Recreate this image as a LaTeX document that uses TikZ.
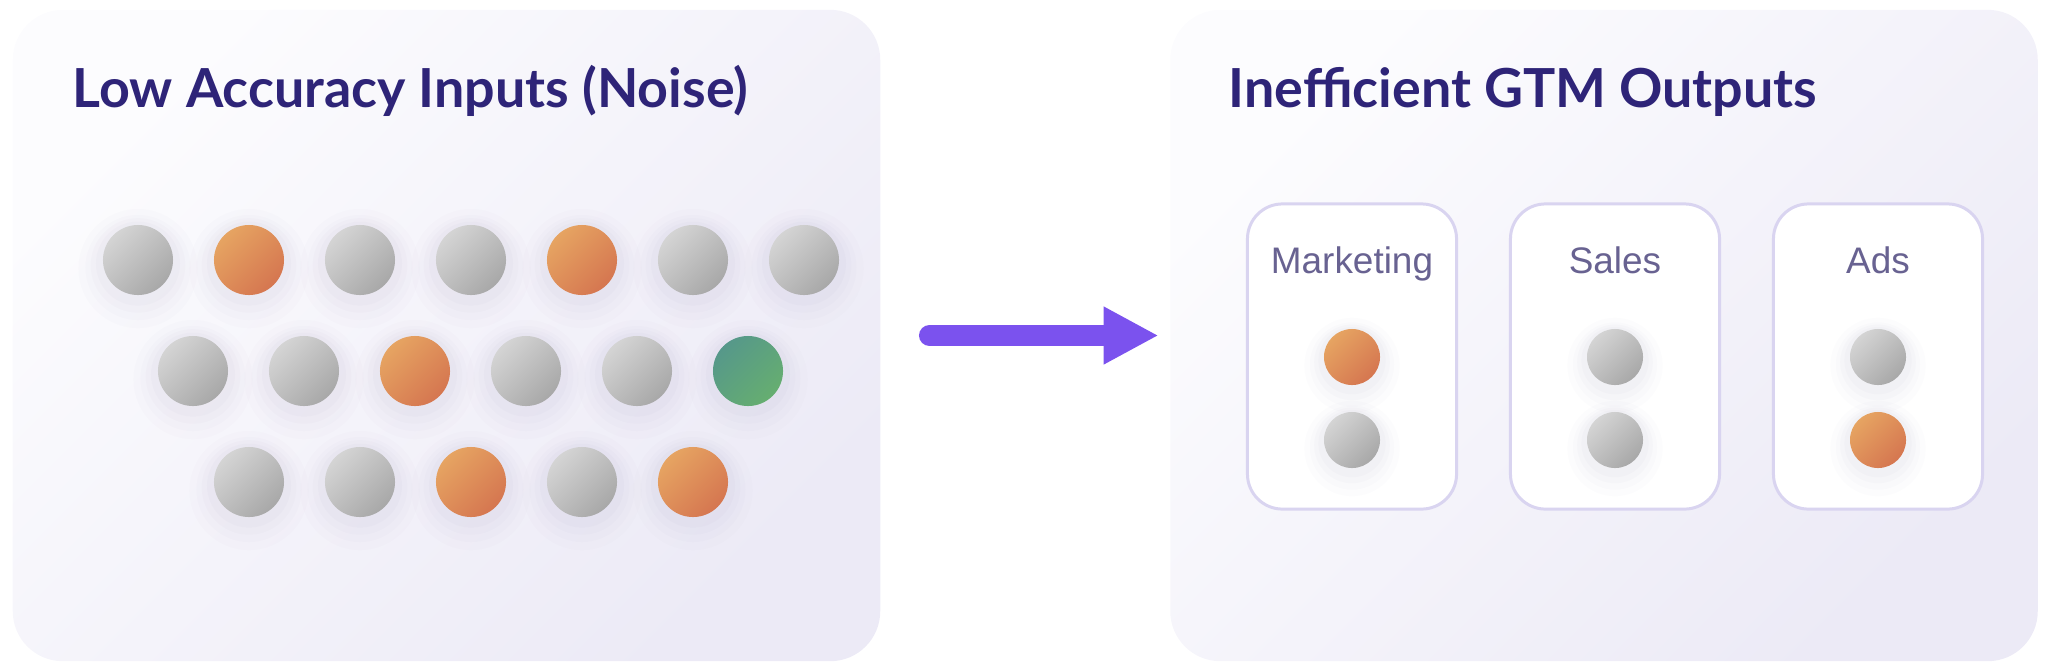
\documentclass[tikz,border=0pt]{standalone}
\usepackage{fontspec}
\usepackage{xcolor}
\usepackage{tikz}
\usetikzlibrary{arrows.meta,positioning,shadows}
\setmainfont{Liberation Sans}
\newfontfamily\headfont{Lato}

\definecolor{titleink}{RGB}{46,36,120}
\definecolor{tagink}{RGB}{104,98,145}
\definecolor{boxline}{RGB}{217,212,240}
\definecolor{flowc}{RGB}{123,82,238}
\definecolor{panelhi}{RGB}{252,252,254}
\definecolor{panello}{RGB}{236,234,246}
\definecolor{grayhi}{RGB}{212,212,212}
\definecolor{graylo}{RGB}{168,168,168}
\definecolor{orangehi}{RGB}{230,164,98}
\definecolor{orangelo}{RGB}{213,118,80}
\definecolor{greenhi}{RGB}{86,152,138}
\definecolor{greenlo}{RGB}{102,174,112}
\definecolor{shadowc}{RGB}{120,110,160}

\begin{document}
\begin{tikzpicture}[x=0.01cm, y=-0.01cm,
    panel/.style={rounded corners=0.5cm, minimum width=8.67cm, minimum height=6.51cm,
                  top color=panelhi, bottom color=panello, shading angle=45},
    channel/.style={fill=white, draw=boxline, line width=0.85pt, rounded corners=0.35cm,
                    minimum width=2.09cm, minimum height=3.05cm},
    heading/.style={anchor=base west, inner sep=0pt, text=titleink,
                    font=\headfont\fontsize{15.3}{18}\selectfont\bfseries},
    tag/.style={anchor=base, inner sep=0pt, text=tagink, font=\fontsize{10.5}{12}\selectfont},
    dot/.style={circle, inner sep=0pt, minimum size=0.7cm, shading angle=45,
                general shadow={shadow scale=1.7, shadow yshift=-0.05cm, fill=shadowc, opacity=.016},
                general shadow={shadow scale=1.5, shadow yshift=-0.05cm, fill=shadowc, opacity=.02},
                general shadow={shadow scale=1.35, shadow yshift=-0.04cm, fill=shadowc, opacity=.024},
                general shadow={shadow scale=1.2, shadow yshift=-0.03cm, fill=shadowc, opacity=.028}},
    small/.style={minimum size=0.56cm},
    gdot/.style={dot, top color=grayhi, bottom color=graylo, shading angle=45},
    odot/.style={dot, top color=orangehi, bottom color=orangelo, shading angle=45},
    tdot/.style={dot, top color=greenhi, bottom color=greenlo, shading angle=45},
    flow/.style={draw=flowc, line width=0.21cm, line cap=round,
                 -{Triangle[length=0.55cm, width=0.54cm]}}]
    %\draw[help lines] (0,0) grid (2048,669);
    \useasboundingbox (0,0) rectangle (2048,669);

   % Panels
   \node[panel] (inputs)  at (446.5,335.5) {};
   \node[panel] (outputs) at (1604,335.5) {};
   \node[heading] (inputs_title)  at (72,107)   {Low Accuracy Inputs (Noise)};
   \node[heading] (outputs_title) at (1228,107) {Inefficient GTM Outputs};

   % Noise, row 1
   \node[gdot] (n11) at (138,260) {};
   \node[odot] (n12) at (249,260) {};
   \node[gdot] (n13) at (360,260) {};
   \node[gdot] (n14) at (471,260) {};
   \node[odot] (n15) at (582,260) {};
   \node[gdot] (n16) at (693,260) {};
   \node[gdot] (n17) at (804,260) {};
   % Noise, row 2
   \node[gdot] (n21) at (193,371) {};
   \node[gdot] (n22) at (304,371) {};
   \node[odot] (n23) at (415,371) {};
   \node[gdot] (n24) at (526,371) {};
   \node[gdot] (n25) at (637,371) {};
   \node[tdot] (n26) at (748,371) {};
   % Noise, row 3
   \node[gdot] (n31) at (249,482) {};
   \node[gdot] (n32) at (360,482) {};
   \node[odot] (n33) at (471,482) {};
   \node[gdot] (n34) at (582,482) {};
   \node[odot] (n35) at (693,482) {};

   % Output channels
   \node[channel] (marketing) at (1352,356.5) {};
   \node[channel] (sales)     at (1615,356.5) {};
   \node[channel] (ads)       at (1878,356.5) {};
   \node[tag] (marketing_tag) at (1352,273) {Marketing};
   \node[tag] (sales_tag)     at (1615,273) {Sales};
   \node[tag] (ads_tag)       at (1878,273) {Ads};

   \node[odot,small] (marketing_a) at (1352,357) {};
   \node[gdot,small] (marketing_b) at (1352,440) {};
   \node[gdot,small] (sales_a)     at (1615,357) {};
   \node[gdot,small] (sales_b)     at (1615,440) {};
   \node[gdot,small] (ads_a)       at (1878,357) {};
   \node[odot,small] (ads_b)       at (1878,440) {};

   % Inputs feed outputs
   \draw[flow, shorten <=0.485cm, shorten >=0.11cm] (inputs) -- (outputs);

\end{tikzpicture}
\end{document}
